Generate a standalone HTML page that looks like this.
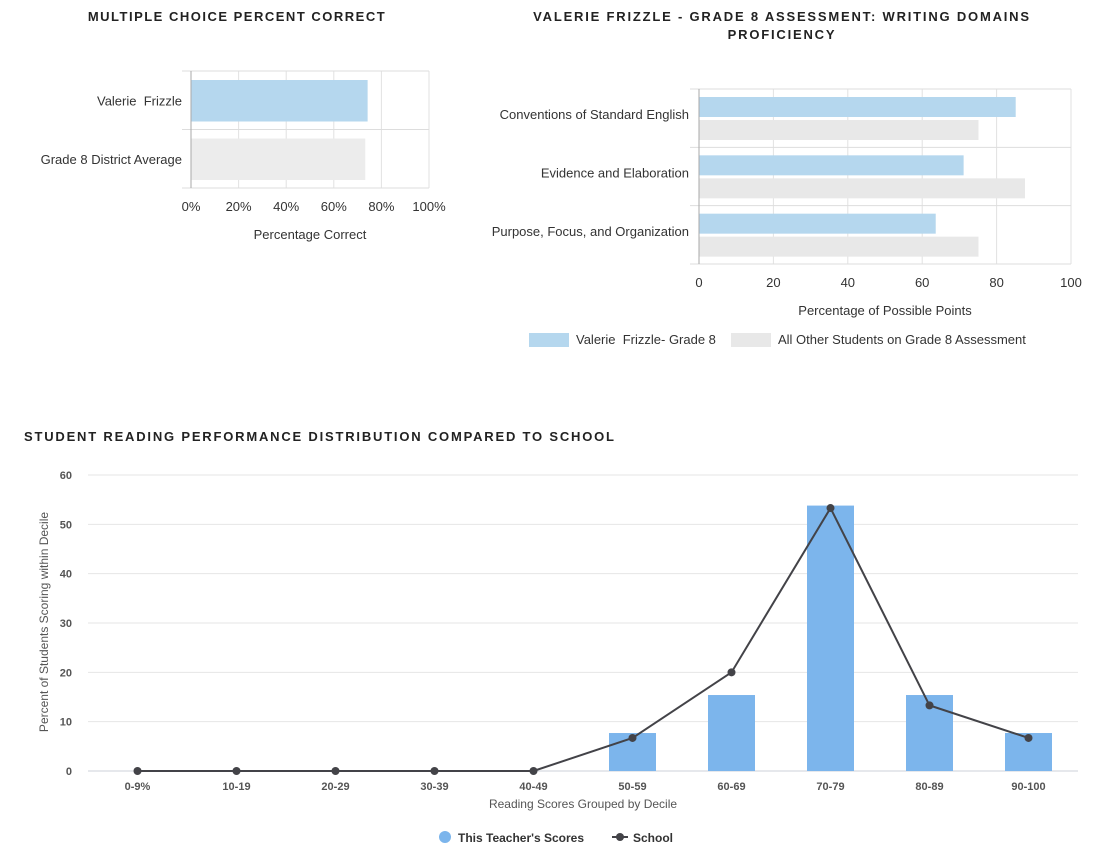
<!DOCTYPE html>
<html><head><meta charset="utf-8"><style>
body{margin:0;background:#fff;width:1098px;height:856px;overflow:hidden;font-family:"Liberation Sans",sans-serif}
svg text{font-family:"Liberation Sans",sans-serif;white-space:pre}
</style></head><body>
<svg id="s" width="1098" height="856">
<text x="237" y="21" text-anchor="middle" font-size="13" font-weight="bold" fill="#222" letter-spacing="1.5">MULTIPLE CHOICE PERCENT CORRECT</text>
<text x="782" y="21" text-anchor="middle" font-size="13" font-weight="bold" fill="#222" letter-spacing="1.8">VALERIE FRIZZLE - GRADE 8 ASSESSMENT: WRITING DOMAINS</text>
<text x="782" y="39" text-anchor="middle" font-size="13" font-weight="bold" fill="#222" letter-spacing="1.8">PROFICIENCY</text>
<text x="24" y="441" font-size="13" font-weight="bold" fill="#222" letter-spacing="1.8">STUDENT READING PERFORMANCE DISTRIBUTION COMPARED TO SCHOOL</text>
<g id="c1"></g><g id="c2"></g><g id="c3"></g>
</svg>
<script>
const NS="http://www.w3.org/2000/svg";
function el(p,t,a,txt){const e=document.createElementNS(NS,t);for(const k in a)e.setAttribute(k,a[k]);if(txt!=null)e.textContent=txt;p.appendChild(e);return e;}

// Chart 1
const mcCategories=["Valerie  Frizzle","Grade 8 District Average"];
const mcValues=[74,73];
const mcTicks=[0,20,40,60,80,100];
// Chart 2
const wdCategories=["Conventions of Standard English","Evidence and Elaboration","Purpose, Focus, and Organization"];
const wdStudent=[85,71,63.5];
const wdOthers=[75,87.5,75];
const wdTicks=[0,20,40,60,80,100];
// Chart 3
const rdCategories=["0-9%","10-19","20-29","30-39","40-49","50-59","60-69","70-79","80-89","90-100"];
const rdTeacher=[0,0,0,0,0,7.7,15.4,53.8,15.4,7.7];
const rdSchool=[0,0,0,0,0,6.7,20,53.3,13.3,6.7];
const rdTicks=[0,10,20,30,40,50,60];

// ---- chart 1
(function(){
const g=document.getElementById('c1');
const x=v=>191+v/100*238, top=71, bot=188, band=(bot-top)/mcCategories.length;
mcTicks.forEach(t=>{
  let l=el(g,'line',{x1:x(t),x2:x(t),y1:top,y2:bot,stroke:'#e2e2e2'});
  
  let tx=el(g,'text',{x:x(t),y:211,'text-anchor':'middle','font-size':13,fill:'#333'},t+'%');
  
});
for(let i=0;i<=mcCategories.length;i++){el(g,'line',{x1:182,x2:429,y1:top+i*band,y2:top+i*band,stroke:'#ddd'});}
el(g,'line',{x1:191,x2:191,y1:top,y2:bot,stroke:'#aaa'});
const cols=['#b5d7ee','#ececec'];
mcCategories.forEach((c,i)=>{
  const y0=top+i*band;
  let r=el(g,'rect',{x:x(0)+0.5,y:y0+9,width:x(mcValues[i])-x(0),height:band-17,fill:cols[i]});
  
  let t=el(g,'text',{x:182,y:y0+band/2+5,'text-anchor':'end','font-size':13,fill:'#333'},c);
  
});
let at=el(g,'text',{x:310,y:239,'text-anchor':'middle','font-size':13,fill:'#333'},'Percentage Correct');

})();

// ---- chart 2
(function(){
const g=document.getElementById('c2');
const x=v=>699+v/100*372, top=89, bot=264, band=(bot-top)/wdCategories.length;
wdTicks.forEach(t=>{
  let l=el(g,'line',{x1:x(t),x2:x(t),y1:top,y2:bot,stroke:'#e2e2e2'});
  
  let tx=el(g,'text',{x:x(t),y:287,'text-anchor':'middle','font-size':13,fill:'#333'},t);
  
});
for(let i=0;i<=wdCategories.length;i++){el(g,'line',{x1:690,x2:1071,y1:top+i*band,y2:top+i*band,stroke:'#ddd'});}
el(g,'line',{x1:699,x2:699,y1:top,y2:bot,stroke:'#aaa'});
wdCategories.forEach((c,i)=>{
  const y0=top+i*band;
  let r=el(g,'rect',{x:x(0)+0.5,y:y0+8,width:x(wdStudent[i])-x(0),height:20,fill:'#b5d7ee'});
  
  let r2=el(g,'rect',{x:x(0)+0.5,y:y0+31,width:x(wdOthers[i])-x(0),height:20,fill:'#e8e8e8'});
  
  let t=el(g,'text',{x:689,y:y0+band/2+1,'text-anchor':'end','font-size':13,fill:'#333'},c);
  
});
let at=el(g,'text',{x:885,y:315,'text-anchor':'middle','font-size':13,fill:'#333'},'Percentage of Possible Points');

let s1=el(g,'rect',{x:529,y:333,width:40,height:14,fill:'#b5d7ee'});

let l1=el(g,'text',{x:576,y:344,'font-size':13,fill:'#333'},'Valerie  Frizzle- Grade 8');

let s2=el(g,'rect',{x:731,y:333,width:40,height:14,fill:'#e8e8e8'});

let l2=el(g,'text',{x:778,y:344,'font-size':13,fill:'#333'},'All Other Students on Grade 8 Assessment');

})();

// ---- chart 3
(function(){
const g=document.getElementById('c3');
const L=88,R=1078,y=v=>771-v/60*296, bw=(R-L)/rdCategories.length, cx=i=>L+bw*(i+0.5);
rdTicks.forEach(t=>{
  let l=el(g,'line',{x1:L,x2:R,y1:y(t),y2:y(t),stroke:t===0?'#ccd0d8':'#e6e6e6'});
  
  let tx=el(g,'text',{x:72,y:y(t)+4,'text-anchor':'end','font-size':11,'font-weight':'bold',fill:'#555'},t);
  
});
rdCategories.forEach((c,i)=>{
  if(rdTeacher[i]>0){
    let r=el(g,'rect',{x:cx(i)-23.5,y:y(rdTeacher[i]),width:47,height:y(0)-y(rdTeacher[i]),fill:'#7cb5ec'});
    
  }
  let t=el(g,'text',{x:cx(i),y:790,'text-anchor':'middle','font-size':11,'font-weight':'bold',fill:'#555'},c);
  
});
let p=el(g,'polyline',{points:rdSchool.map((v,i)=>cx(i)+','+y(v)).join(' '),fill:'none',stroke:'#434348','stroke-width':2});

rdSchool.forEach((v,i)=>{
  let c=el(g,'circle',{cx:cx(i),cy:y(v),r:4,fill:'#434348'});
  
});
let yt=el(g,'text',{x:0,y:0,transform:'translate(48,622) rotate(-90)','text-anchor':'middle','font-size':12,fill:'#555'},'Percent of Students Scoring within Decile');

let xt=el(g,'text',{x:583,y:808,'text-anchor':'middle','font-size':12,fill:'#555'},'Reading Scores Grouped by Decile');

let c1=el(g,'circle',{cx:445,cy:837,r:6,fill:'#7cb5ec'});

let t1=el(g,'text',{x:458,y:842,'font-size':12,'font-weight':'bold',fill:'#333'},"This Teacher's Scores");

let ml=el(g,'line',{x1:612,x2:628,y1:837,y2:837,stroke:'#434348','stroke-width':2});

let mc=el(g,'circle',{cx:620,cy:837,r:4,fill:'#434348'});

let t2=el(g,'text',{x:633,y:842,'font-size':12,'font-weight':'bold',fill:'#333'},'School');

})();
</script>
</body></html>
